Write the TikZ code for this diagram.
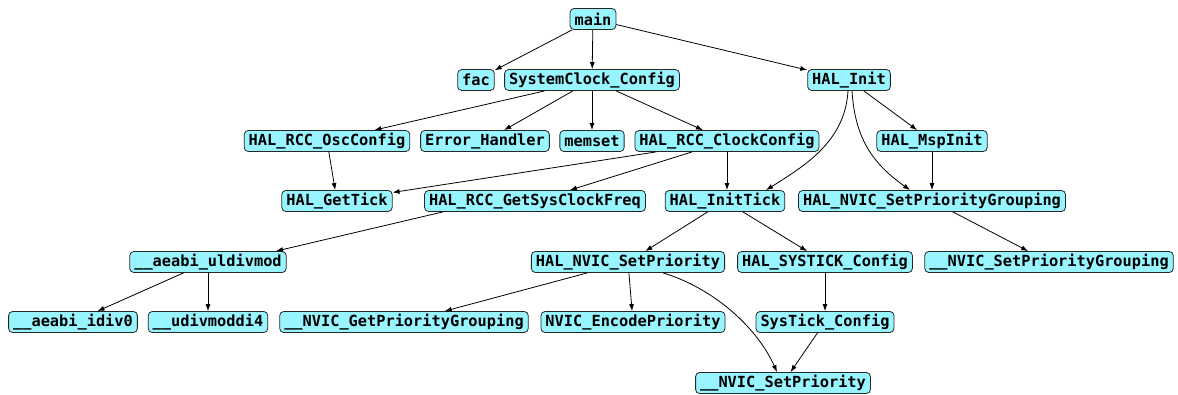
\documentclass[tikz,border=0pt]{standalone}
\usepackage{fontspec}
\setmonofont{DejaVu Sans Mono}
\usetikzlibrary{arrows.meta}
\definecolor{fnfill}{RGB}{152,245,255}
\tikzset{
  fn/.style={shape=rectangle, draw=black!85, fill=fnfill, rounded corners=4pt,
    line width=0.8pt, minimum height=21pt, inner xsep=4.5pt, inner ysep=0pt,
    font=\fontsize{15.3}{18}\selectfont\ttfamily\bfseries},
  call/.style={-{Latex[length=7pt,width=5pt]}, line width=0.8pt}
}
\begin{document}
\begin{tikzpicture}[x=1pt, y=-1pt]
    \useasboundingbox (0, 0) rectangle (1178, 394);

    \node (main) [fn] at (593, 19) {main};

    \node (fac) [fn] at (476, 80) {fac};
    \node (sysclk) [fn] at (592, 80) {SystemClock\_Config};
    \node (init) [fn] at (849, 80) {HAL\_Init};

    \node (osc) [fn] at (327, 141) {HAL\_RCC\_OscConfig};
    \node (err) [fn] at (485, 141) {Error\_Handler};
    \node (memset) [fn] at (592, 141) {memset};
    \node (clk) [fn] at (727, 141) {HAL\_RCC\_ClockConfig};
    \node (msp) [fn] at (932, 141) {HAL\_MspInit};

    \node (tick) [fn] at (337, 201) {HAL\_GetTick};
    \node (freq) [fn] at (535, 201) {HAL\_RCC\_GetSysClockFreq};
    \node (inittick) [fn] at (725, 201) {HAL\_InitTick};
    \node (grp) [fn] at (932, 201) {HAL\_NVIC\_SetPriorityGrouping};

    \node (uldiv) [fn] at (208, 262) {\_\_aeabi\_uldivmod};
    \node (prio) [fn] at (628, 262) {HAL\_NVIC\_SetPriority};
    \node (systick) [fn] at (825, 262) {HAL\_SYSTICK\_Config};
    \node (grp2) [fn] at (1049, 262) {\_\_NVIC\_SetPriorityGrouping};

    \node (idiv) [fn] at (73, 322) {\_\_aeabi\_idiv0};
    \node (udivdi) [fn] at (208, 322) {\_\_udivmoddi4};
    \node (getgrp) [fn] at (404, 322) {\_\_NVIC\_GetPriorityGrouping};
    \node (enc) [fn] at (633, 322) {NVIC\_EncodePriority};
    \node (stcfg) [fn] at (825, 322) {SysTick\_Config};

    \node (prio2) [fn] at (783, 383) {\_\_NVIC\_SetPriority};

    \draw [call] (main) -- (fac);
    \draw [call] (main) -- (sysclk);
    \draw [call] (main) -- (init);

    \draw [call] (sysclk) -- (osc);
    \draw [call] (sysclk) -- (err);
    \draw [call] (sysclk) -- (memset);
    \draw [call] (sysclk) -- (clk);
    \draw [call] (init) -- (msp);
    \draw [call] ([xshift=-1pt]init.south) .. controls +(-3, 50) and +(40, -25) .. ([xshift=41pt]inittick.north);
    \draw [call] ([xshift=3pt]init.south) .. controls +(3, 50) and +(-35, -25) .. ([xshift=-22pt]grp.north);

    \draw [call] (osc) -- (tick);
    \draw [call] (clk) -- (tick);
    \draw [call] (clk) -- (freq);
    \draw [call] (clk.south) -- ([xshift=2pt]inittick.north);
    \draw [call] (msp) -- (grp);

    \draw [call] ([xshift=-92pt]freq.south) -- ([xshift=68pt]uldiv.north);
    \draw [call] (inittick) -- (prio);
    \draw [call] (inittick) -- (systick);
    \draw [call] (grp) -- (grp2);

    \draw [call] (uldiv) -- (idiv);
    \draw [call] (uldiv) -- (udivdi);
    \draw [call] (prio) -- (getgrp);
    \draw [call] (prio) -- (enc);
    \draw [call] ([xshift=35pt]prio.south) .. controls +(50, 15) and +(-20, -45) .. ([xshift=-6pt]prio2.north);
    \draw [call] (systick) -- (stcfg);

    \draw [call] (stcfg) -- (prio2);
\end{tikzpicture}
\end{document}
